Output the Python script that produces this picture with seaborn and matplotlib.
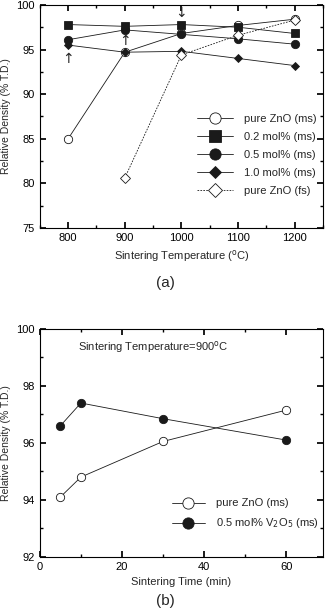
import numpy as np
import pandas as pd
import matplotlib
matplotlib.use("Agg")
import matplotlib.pyplot as plt
import seaborn as sns
from matplotlib.ticker import MultipleLocator

# (a) relative density vs sintering temperature
temps = [800, 900, 1000, 1100, 1200]
pure_ms = [85.0, 94.7, 96.8, 97.7, 98.4]
v02_ms = [97.8, 97.6, 97.8, 97.5, 96.8]
v05_ms = [96.1, 97.2, 96.7, 96.2, 95.6]
v10_ms = [95.5, 94.7, 94.8, 94.0, 93.2]
temps_fs = [900, 1000, 1100, 1200]
pure_fs = [80.6, 94.4, 96.6, 98.3]

# (b) relative density vs sintering time at 900 C
times = [5, 10, 30, 60]
pure_time = [94.1, 94.8, 96.05, 97.15]
v05_time = [96.6, 97.4, 96.85, 96.1]

sns.set_theme(style="ticks")
plt.rcParams['font.family'] = ['Liberation Sans', 'DejaVu Sans']
plt.rcParams.update({
    'font.size': 8,
    'axes.labelsize': 8,
    'xtick.labelsize': 8,
    'ytick.labelsize': 8,
    'axes.edgecolor': 'black',
    'axes.linewidth': 0.8,
    'xtick.direction': 'in',
    'ytick.direction': 'in',
    'xtick.top': True,
    'ytick.right': True,
    'xtick.major.size': 4,
    'ytick.major.size': 4,
    'xtick.minor.size': 2,
    'ytick.minor.size': 2,
    'xtick.color': 'black',
    'ytick.color': 'black',
})

fig = plt.figure(figsize=(3.32, 6.16), dpi=100)
ax1 = fig.add_axes([0.120, 0.630, 0.853, 0.362])
ax2 = fig.add_axes([0.120, 0.096, 0.853, 0.370])

line_kw = dict(color='k', lw=0.6, markeredgecolor='k', markeredgewidth=0.6)

sns.lineplot(x=temps, y=pure_ms, ax=ax1, marker='o', markersize=6, mfc='white',
             label='pure ZnO (ms)', **line_kw)
sns.lineplot(x=temps, y=v02_ms, ax=ax1, marker='s', markersize=6, mfc='k',
             label='0.2 mol% (ms)', **line_kw)
sns.lineplot(x=temps, y=v05_ms, ax=ax1, marker='o', markersize=6, mfc='k',
             label='0.5 mol% (ms)', **line_kw)
sns.lineplot(x=temps, y=v10_ms, ax=ax1, marker='D', markersize=4.5, mfc='k',
             label='1.0 mol% (ms)', **line_kw)
sns.lineplot(x=temps_fs, y=pure_fs, ax=ax1, marker='D', markersize=5, mfc='white',
             label='pure ZnO (fs)', linestyle=(0, (2, 1.5)), **line_kw)

ax1.set_xlim(750, 1250)
ax1.set_ylim(75, 100)
ax1.set_xticks(temps)
ax1.xaxis.set_minor_locator(MultipleLocator(50))
ax1.yaxis.set_major_locator(MultipleLocator(5))
ax1.yaxis.set_minor_locator(MultipleLocator(2.5))
ax1.set_xlabel('Sintering Temperature ($^{\\mathrm{o}}$C)')
ax1.set_ylabel('Relative Density (% T.D.)', fontsize=7.5)

# arrows marking the optimum samples
for x, y, s in [(800, 93.9, '↑'), (900, 96.0, '↑'), (1000, 99.1, '↓')]:
    ax1.text(x, y, s, ha='center', va='center', fontsize=10, family='DejaVu Sans')

ax1.legend(loc='upper left', bbox_to_anchor=(0.52, 0.555), frameon=False,
           handlelength=3.2, markerscale=1.35, labelspacing=0.72, handletextpad=1.0,
           fontsize=8)
fig.text(0.497, 0.540, '(a)', ha='center', va='center', fontsize=11)

sns.lineplot(x=times, y=pure_time, ax=ax2, marker='o', markersize=6, mfc='white',
             label='pure ZnO (ms)', **line_kw)
sns.lineplot(x=times, y=v05_time, ax=ax2, marker='o', markersize=6, mfc='k',
             label='0.5 mol% V$_2$O$_5$ (ms)', **line_kw)

ax2.set_xlim(0, 69)
ax2.set_ylim(92, 100)
ax2.xaxis.set_major_locator(MultipleLocator(20))
ax2.xaxis.set_minor_locator(MultipleLocator(10))
ax2.yaxis.set_major_locator(MultipleLocator(2))
ax2.yaxis.set_minor_locator(MultipleLocator(1))
ax2.set_xlabel('Sintering Time (min)')
ax2.set_ylabel('Relative Density (% T.D.)', fontsize=7.5)
ax2.text(0.135, 0.92, 'Sintering Temperature=900$^{\\mathrm{o}}$C', transform=ax2.transAxes,
         ha='left', va='center', fontsize=8)
ax2.legend(loc='upper left', bbox_to_anchor=(0.43, 0.30), frameon=False,
           handlelength=3.0, markerscale=1.35, labelspacing=0.72, handletextpad=1.0,
           fontsize=8)
fig.text(0.497, 0.025, '(b)', ha='center', va='center', fontsize=11)

fig.savefig('out.png', dpi=100)
